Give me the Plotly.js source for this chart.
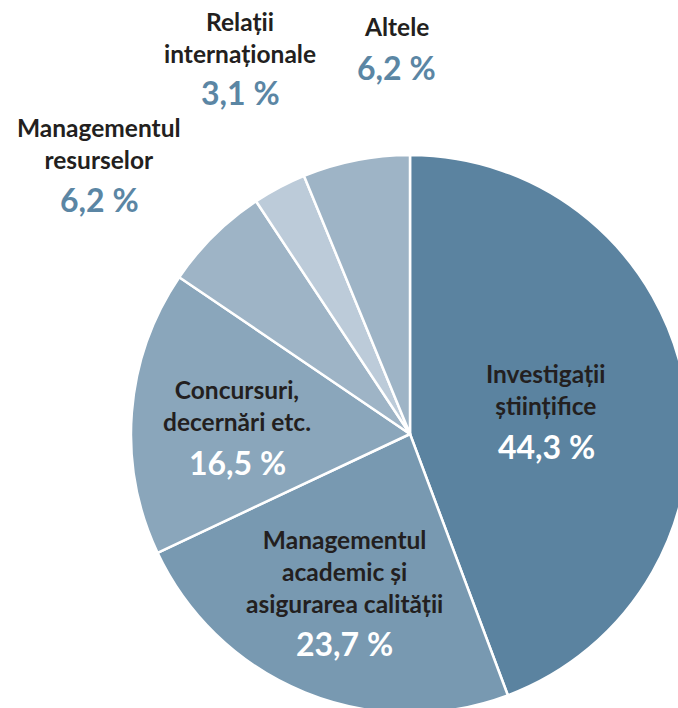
<!DOCTYPE html>
<html>
<head>
<meta charset="utf-8">
<script src="https://cdn.plot.ly/plotly-3.0.1.min.js"></script>
<style>
html,body{margin:0;padding:0;overflow:hidden;background:#fff;width:678px;height:708px;}
#chart{width:690px;height:714px;}
</style>
</head>
<body>
<div id="chart"></div>
<script>
// Data
const categories = [
  "Investigații<br>științifice",
  "Managementul<br>academic și<br>asigurarea calității",
  "Concursuri,<br>decernări etc.",
  "Managementul<br>resurselor",
  "Relații<br>internaționale",
  "Altele"
];
const shares = [44.3, 23.7, 16.5, 6.2, 3.1, 6.2];
const sliceColors = ["#5b83a0", "#7899b1", "#8aa6bb", "#9eb4c6", "#bccbd9", "#9eb4c6"];
const valueLabels = shares.map(v => v.toFixed(1).replace(".", ",") + " %");

// label placement (pixels in page), per slice
const labelPos = [
  {x: 546, y: 390, vy: 446, inside: true},
  {x: 344, y: 571, vy: 643, inside: true},
  {x: 237, y: 405, vy: 462, inside: true},
  {x: 99,  y: 144, vy: 199, inside: false},
  {x: 240, y: 37,  vy: 93,  inside: false},
  {x: 396, y: 27,  vy: 67,  inside: false}
];

const W = 690, H = 714;
const cx = 410, cy = 434, R = 279;
const px = x => x / W;
const py = y => 1 - y / H;

const FONT = "Lato, 'PT Sans', sans-serif";
const annotations = [];
categories.forEach((c, i) => {
  const p = labelPos[i];
  annotations.push({
    xref: "paper", yref: "paper", x: px(p.x), y: py(p.y),
    xanchor: "center", yanchor: "middle", showarrow: false,
    text: "<b>" + c + "</b>",
    font: {family: FONT, size: 24.5, color: "#231f20"}
  });
  annotations.push({
    xref: "paper", yref: "paper", x: px(p.x), y: py(p.vy),
    xanchor: "center", yanchor: "middle", showarrow: false,
    text: "<b>" + valueLabels[i] + "</b>",
    font: {family: FONT, size: 32, color: p.inside ? "#ffffff" : "#5b86a4"}
  });
});

const trace = {
  type: "pie",
  values: shares,
  labels: categories,
  sort: false,
  direction: "clockwise",
  rotation: 0,
  textinfo: "none",
  hoverinfo: "skip",
  marker: {colors: sliceColors, line: {color: "#ffffff", width: 2.5}},
  domain: {x: [px(cx - R), px(cx + R)], y: [py(cy + R), py(cy - R)]},
  showlegend: false
};

Plotly.newPlot("chart", [trace], {
  width: W, height: H,
  margin: {l: 0, r: 0, t: 0, b: 0},
  paper_bgcolor: "#ffffff",
  showlegend: false,
  annotations: annotations
}, {staticPlot: true});
</script>
</body>
</html>
